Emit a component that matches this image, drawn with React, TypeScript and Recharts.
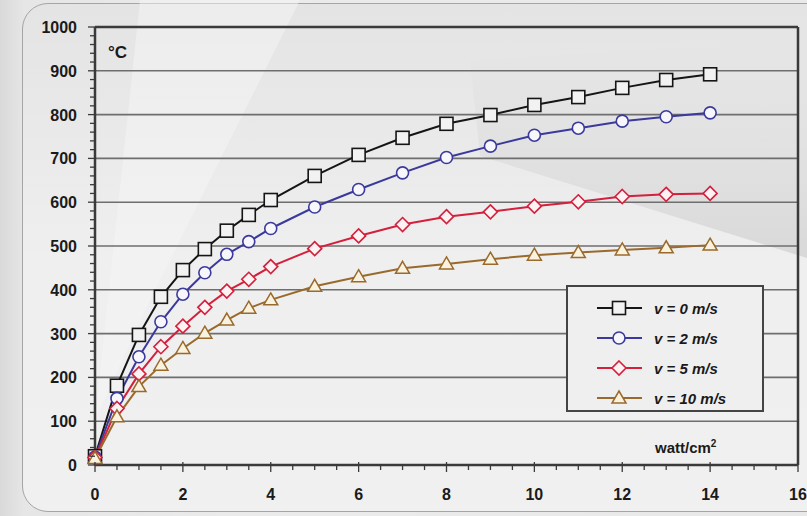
import React from 'react';
import { LineChart, Line, XAxis, YAxis, ReferenceLine, Legend } from 'recharts';

// power density (watt/cm2)
const powerDensity = [0, 0.5, 1, 1.5, 2, 2.5, 3, 3.5, 4, 5, 6, 7, 8, 9, 10, 11, 12, 13, 14];

// temperature (°C) for each air speed
const tempV0 = [20, 181, 297, 384, 445, 493, 535, 571, 605, 660, 708, 747, 779, 799, 822, 840, 861, 879, 892];
const tempV2 = [18, 152, 247, 327, 390, 439, 481, 510, 540, 589, 629, 667, 702, 728, 753, 769, 785, 795, 804];
const tempV5 = [17, 129, 208, 270, 317, 360, 397, 424, 453, 494, 523, 549, 567, 578, 591, 601, 613, 618, 620];
const tempV10 = [15, 110, 179, 228, 266, 301, 331, 358, 377, 408, 430, 449, 459, 470, 479, 485, 491, 496, 502];

const xTicks = [0, 0.5, 1, 1.5, 2, 2.5, 3, 3.5, 4, 4.5, 5, 5.5, 6, 6.5, 7, 7.5, 8, 8.5, 9, 9.5, 10, 10.5, 11, 11.5, 12, 12.5, 13, 13.5, 14, 14.5, 15, 15.5, 16];
const yTicks = [0, 20, 40, 60, 80, 100, 120, 140, 160, 180, 200, 220, 240, 260, 280, 300, 320, 340, 360, 380, 400, 420, 440, 460, 480, 500, 520, 540, 560, 580, 600, 620, 640, 660, 680, 700, 720, 740, 760, 780, 800, 820, 840, 860, 880, 900, 920, 940, 960, 980, 1000];
const gridValues = [100, 200, 300, 400, 500, 600, 700, 800, 900];

const data = powerDensity.map((x, i) => ({
  x,
  v0: tempV0[i],
  v2: tempV2[i],
  v5: tempV5[i],
  v10: tempV10[i],
}));

const FONT = '"Liberation Sans", Arial, sans-serif';

type Shape = 'square' | 'circle' | 'diamond' | 'triangle';

const series: { key: string; name: string; color: string; shape: Shape; fill: string }[] = [
  { key: 'v0', name: 'v = 0 m/s', color: '#151515', shape: 'square', fill: '#f2f2f2' },
  { key: 'v2', name: 'v = 2 m/s', color: '#3b3a9c', shape: 'circle', fill: '#f6f6fb' },
  { key: 'v5', name: 'v = 5 m/s', color: '#d41f3d', shape: 'diamond', fill: '#fbf3f3' },
  { key: 'v10', name: 'v = 10 m/s', color: '#9a6a2c', shape: 'triangle', fill: '#f8f2df' },
];

function Marker({ cx, cy, shape, color, fill }: { cx: number; cy: number; shape: Shape; color: string; fill: string }) {
  if (shape === 'square') {
    return <rect x={cx - 6.5} y={cy - 6.5} width={13} height={13} fill={fill} stroke={color} strokeWidth={1.6} />;
  }
  if (shape === 'circle') {
    return <circle cx={cx} cy={cy} r={6} fill={fill} stroke={color} strokeWidth={1.6} />;
  }
  if (shape === 'diamond') {
    return (
      <polygon
        points={`${cx},${cy - 7} ${cx + 7},${cy} ${cx},${cy + 7} ${cx - 7},${cy}`}
        fill={fill}
        stroke={color}
        strokeWidth={1.6}
      />
    );
  }
  return (
    <polygon
      points={`${cx},${cy - 7} ${cx + 7},${cy + 5} ${cx - 7},${cy + 5}`}
      fill={fill}
      stroke={color}
      strokeWidth={1.5}
    />
  );
}

const XTick = (props: any) => {
  const { x, y, payload } = props;
  const v = payload.value;
  const major = v % 2 === 0;
  return (
    <g>
      <line x1={x} x2={x} y1={y - (major ? 3 : 1)} y2={y + (major ? 7 : 5)} stroke="#3a3a3a" strokeWidth={1.3} />
      {major && (
        <text x={x} y={y + 35} textAnchor="middle" fontSize={16} fontWeight="bold" fontFamily={FONT} fill="#1a1a1a">
          {v}
        </text>
      )}
    </g>
  );
};

const YTick = (props: any) => {
  const { x, y, payload } = props;
  const v = payload.value;
  const major = v % 100 === 0;
  return (
    <g>
      <line x1={x - (major ? 7 : 5)} x2={x} y1={y} y2={y} stroke="#3a3a3a" strokeWidth={1.3} />
      {major && (
        <text x={x - 18} y={y + 6} textAnchor="end" fontSize={16} fontWeight="bold" fontFamily={FONT} fill="#1a1a1a">
          {v}
        </text>
      )}
    </g>
  );
};

const renderLegend = () => (
  <div
    style={{
      width: 198,
      height: 127,
      boxSizing: 'border-box',
      border: '2px solid #444',
      background: '#efefef',
      paddingTop: 6,
    }}
  >
    {series.map((s) => (
      <div key={s.key} style={{ display: 'flex', alignItems: 'center', height: 30 }}>
        <svg width={80} height={20} style={{ marginLeft: 4 }}>
          <line x1={25} x2={70} y1={10} y2={10} stroke={s.color} strokeWidth={2} />
          <Marker cx={47} cy={10} shape={s.shape} color={s.color} fill={s.fill} />
        </svg>
        <span
          style={{
            fontFamily: FONT,
            fontSize: 15,
            fontWeight: 'bold',
            fontStyle: 'italic',
            color: '#1a1a1a',
            marginLeft: 2,
            whiteSpace: 'pre',
          }}
        >
          {s.name}
        </span>
      </div>
    ))}
  </div>
);

export default function App() {
  return (
    <div
      style={{
        position: 'absolute',
        left: 0,
        top: 0,
        width: 807,
        height: 516,
        overflow: 'hidden',
        background: 'linear-gradient(90deg, #d9d9d9 0%, #e6e6e6 3%, #ebebeb 30%, #e9e9e9 100%)',
      }}
    >
      <div
        style={{
          position: 'absolute',
          left: 22,
          top: 3,
          width: 840,
          height: 507,
          border: '1.5px solid #a5a5a5',
          borderRadius: 26,
          background: 'linear-gradient(180deg, #e4e4e4 0%, #e8e8e8 20%, #efefef 50%, #f0f0f0 100%)',
        }}
      />
      <svg width={807} height={516} style={{ position: 'absolute', left: 0, top: 0 }}>
        <defs>
          <linearGradient id="shade" x1="0" y1="0" x2="0" y2="1">
            <stop offset="0%" stopColor="#d4d4d4" stopOpacity={0} />
            <stop offset="100%" stopColor="#cfcfcf" stopOpacity={0.7} />
          </linearGradient>
        </defs>
        <polygon points="140,0 300,0 150,300 95,420" fill="#f6f6f6" opacity={0.5} />
        <polygon points="470,60 807,40 807,258 480,156" fill="url(#shade)" />
      </svg>
      <div style={{ position: 'absolute', left: 0, top: 0 }}>
        <LineChart width={807} height={516} data={data} margin={{ top: 27, right: 9, bottom: 21, left: 0 }}>
          <XAxis
            dataKey="x"
            type="number"
            domain={[0, 16]}
            ticks={xTicks}
            interval={0}
            tickSize={0}
            tickMargin={0}
            tickLine={false}
            tick={<XTick />}
            axisLine={{ stroke: '#3a3a3a', strokeWidth: 2.5 }}
            height={30}
          />
          <YAxis
            type="number"
            domain={[0, 1000]}
            ticks={yTicks}
            interval={0}
            tickSize={0}
            tickMargin={0}
            tickLine={false}
            tick={<YTick />}
            axisLine={{ stroke: '#3a3a3a', strokeWidth: 2.5 }}
            width={95}
          />
          {gridValues.map((g) => (
            <ReferenceLine key={g} y={g} stroke="#6e6e6e" strokeWidth={1.6} />
          ))}
          <ReferenceLine y={1000} stroke="#3a3a3a" strokeWidth={2.5} />
          <ReferenceLine x={16} stroke="#3a3a3a" strokeWidth={2.5} />
          <Legend
            layout="vertical"
            align="center"
            verticalAlign="middle"
            content={renderLegend}
            wrapperStyle={{ left: 566, top: 285, width: 198, height: 127 }}
          />
          {series.map((s) => (
            <Line
              key={s.key}
              type="linear"
              dataKey={s.key}
              name={s.name}
              stroke={s.color}
              strokeWidth={2}
              isAnimationActive={false}
              dot={(p: any) => (
                <Marker key={`${s.key}-${p.index}`} cx={p.cx} cy={p.cy} shape={s.shape} color={s.color} fill={s.fill} />
              )}
              activeDot={false}
            />
          ))}
        </LineChart>
      </div>
      <div
        style={{
          position: 'absolute',
          left: 108,
          top: 43,
          fontFamily: FONT,
          fontSize: 17,
          fontWeight: 'bold',
          color: '#1a1a1a',
        }}
      >
        °C
      </div>
      <div
        style={{
          position: 'absolute',
          left: 655,
          top: 438,
          fontFamily: FONT,
          fontSize: 15,
          fontWeight: 'bold',
          color: '#1a1a1a',
        }}
      >
        watt/cm<sup style={{ fontSize: 10 }}>2</sup>
      </div>
    </div>
  );
}
